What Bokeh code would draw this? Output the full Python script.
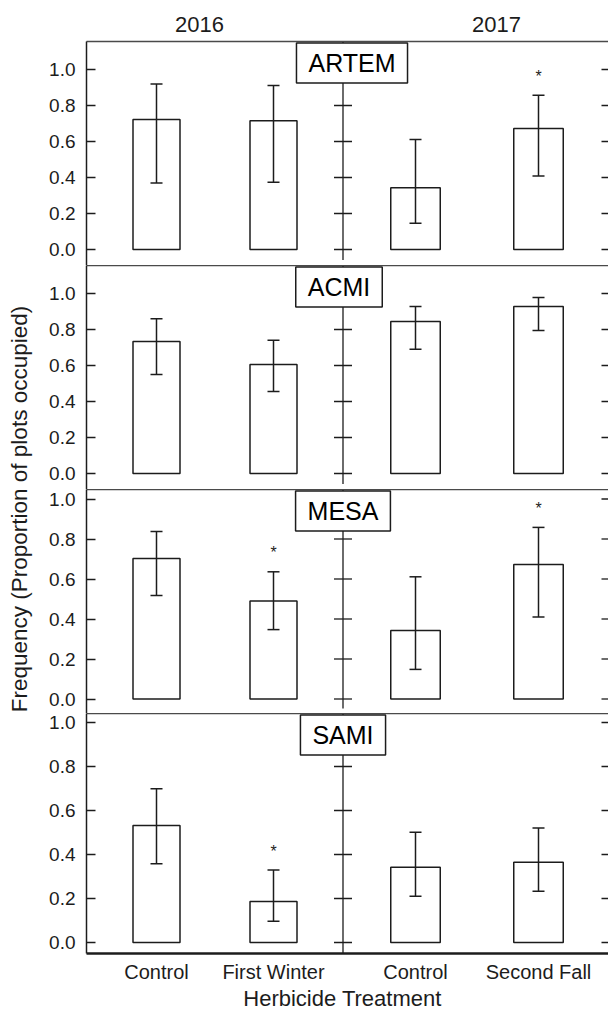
import math
from bokeh.plotting import figure
from bokeh.models import (Range1d, LinearAxis, FixedTicker, ColumnDataSource, Whisker,
                          TeeHead, Label, PrintfTickFormatter)
from bokeh.layouts import column, row
from bokeh.embed import file_html
from bokeh.resources import INLINE
from bokeh.core.properties import value

# ---------------- data ----------------
species = ["ARTEM", "ACMI", "MESA", "SAMI"]
treatments = ["Control", "First Winter", "Control", "Second Fall"]
years = ["2016", "2017"]
x_title = "Herbicide Treatment"
y_title = "Frequency (Proportion of plots occupied)"

freq_artem = [0.722, 0.715, 0.343, 0.672]
lo_artem = [0.370, 0.374, 0.146, 0.409]
hi_artem = [0.920, 0.911, 0.611, 0.857]
sig_artem = [False, False, False, True]

freq_acmi = [0.733, 0.605, 0.844, 0.928]
lo_acmi = [0.550, 0.455, 0.690, 0.795]
hi_acmi = [0.860, 0.740, 0.928, 0.978]
sig_acmi = [False, False, False, False]

freq_mesa = [0.702, 0.490, 0.343, 0.673]
lo_mesa = [0.517, 0.347, 0.148, 0.410]
hi_mesa = [0.837, 0.636, 0.611, 0.858]
sig_mesa = [False, True, False, True]

freq_sami = [0.532, 0.186, 0.342, 0.365]
lo_sami = [0.358, 0.097, 0.210, 0.233]
hi_sami = [0.699, 0.329, 0.501, 0.520]
sig_sami = [False, True, False, False]

y_ticks = [0.0, 0.2, 0.4, 0.6, 0.8, 1.0]

# ---------------- layout / style ----------------
FONT = "Liberation Sans"
INK = "#1c1c1c"
X_END = 5.22
x_pos = [0.70, 1.87, 3.29, 4.52]
bar_w = [0.47, 0.47, 0.495, 0.495]
div_x = 2.565
year_x = [1.13, 4.10]
label_x = [2.655, 2.525, 2.565, 2.565]
title_x = 2.56

panels = [
    dict(freq=freq_artem, lo=lo_artem, hi=hi_artem, sig=sig_artem,
         h=265, ys=-0.0889, ye=1.1556, top=41, bottom=0, fh=224),
    dict(freq=freq_acmi, lo=lo_acmi, hi=hi_acmi, sig=sig_acmi,
         h=224, ys=-0.0889, ye=1.1556, top=0, bottom=0, fh=224),
    dict(freq=freq_mesa, lo=lo_mesa, hi=hi_mesa, sig=sig_mesa,
         h=224, ys=-0.0725, ye=1.0475, top=0, bottom=0, fh=224),
    dict(freq=freq_sami, lo=lo_sami, hi=hi_sami, sig=sig_sami,
         h=272, ys=-0.05, ye=1.0409, top=0, bottom=32, fh=240),
]

figs = []
for i, cfg in enumerate(panels):
    last = i == len(panels) - 1
    p = figure(width=572, height=cfg["h"], x_range=Range1d(0, X_END),
               y_range=Range1d(cfg["ys"], cfg["ye"]),
               output_backend="svg", toolbar_location=None,
               x_axis_location=None, y_axis_location=None,
               min_border_left=50, min_border_right=0,
               min_border_top=cfg["top"], min_border_bottom=cfg["bottom"],
               outline_line_color=None, background_fill_color="white",
               border_fill_color="white")
    p.xgrid.grid_line_color = None
    p.ygrid.grid_line_color = None
    scale = cfg["fh"] / (cfg["ye"] - cfg["ys"])

    left = LinearAxis(ticker=FixedTicker(ticks=y_ticks),
                      formatter=PrintfTickFormatter(format="%.1f"),
                      major_tick_in=9, major_tick_out=0,
                      minor_tick_line_color=None,
                      axis_line_color=INK, axis_line_width=1.5,
                      major_tick_line_color=INK, major_tick_line_width=1.5,
                      major_label_text_font=FONT,
                      major_label_text_font_size="19px",
                      major_label_text_color=INK, major_label_standoff=11)
    p.add_layout(left, "left")

    if i == 0:
        top_ax = LinearAxis(ticker=FixedTicker(ticks=year_x),
                            major_label_overrides={year_x[k]: years[k] for k in range(2)},
                            major_tick_in=0, major_tick_out=0,
                            minor_tick_line_color=None,
                            axis_line_color="#4a4a4a", axis_line_width=1.5,
                            major_label_text_font=FONT,
                            major_label_text_font_size="22px",
                            major_label_text_color=INK, major_label_standoff=10)
    else:
        top_ax = LinearAxis(ticker=FixedTicker(ticks=[]),
                            major_tick_in=0, major_tick_out=0,
                            minor_tick_line_color=None,
                            axis_line_color="#4a4a4a", axis_line_width=1.5,
                            major_label_standoff=0)
    p.add_layout(top_ax, "above")

    if last:
        bot = LinearAxis(ticker=FixedTicker(ticks=x_pos),
                         major_label_overrides={x_pos[k]: treatments[k] for k in range(4)},
                         major_tick_in=0, major_tick_out=0,
                         minor_tick_line_color=None,
                         axis_line_color=INK, axis_line_width=2.5,
                         major_label_text_font=FONT,
                         major_label_text_font_size="20px",
                         major_label_text_color=INK, major_label_standoff=7)
        p.add_layout(bot, "below")

    # ticks on the right edge (frame continues past the window)
    p.scatter(x=[X_END] * len(y_ticks), y=y_ticks, marker="dash", size=14,
              line_color=INK, line_width=1.3)

    # divider between years (y axis of the 2017 sub-panel)
    div_bottom = cfg["ys"] if last else cfg["ys"] * 0.65
    p.segment(x0=[div_x], y0=[div_bottom], x1=[div_x], y1=[cfg["ye"]],
              line_color=INK, line_width=1.3)
    p.scatter(x=[div_x] * len(y_ticks), y=y_ticks, marker="dash", size=18,
              line_color=INK, line_width=1.3)

    src = ColumnDataSource(dict(x=x_pos, w=bar_w, freq=cfg["freq"],
                                lo=cfg["lo"], hi=cfg["hi"]))
    p.vbar(x="x", width="w", top="freq", bottom=0, source=src,
           fill_color="white", line_color=INK, line_width=1.5)
    wk = Whisker(source=src, base="x", upper="hi", lower="lo",
                 dimension="height", line_color=INK, line_width=1.5,
                 level="annotation",
                 upper_head=TeeHead(size=12, line_color=INK, line_width=1.5),
                 lower_head=TeeHead(size=12, line_color=INK, line_width=1.5))
    p.add_layout(wk)

    sx = [x_pos[k] for k in range(4) if cfg["sig"][k]]
    sy = [cfg["hi"][k] for k in range(4) if cfg["sig"][k]]
    if sx:
        p.text(x=sx, y=sy, text=["*"] * len(sx), text_font=value(FONT),
               text_font_size="16px", text_align="center",
               text_baseline="alphabetic", y_offset=-19, text_color=INK)

    lab = Label(x=label_x[i], y=cfg["ye"] - 1.5 / scale, text=species[i],
                text_font=FONT, text_font_size="25px", text_color="black",
                text_align="center", text_baseline="top",
                background_fill_color="white", border_line_color=INK,
                border_line_width=1.5, padding=(12, 6))
    p.add_layout(lab)
    figs.append(p)

# x-axis title strip under the panels
tf = figure(width=572, height=26, x_range=Range1d(0, X_END), y_range=Range1d(0, 1),
            output_backend="svg", toolbar_location=None,
            x_axis_location=None, y_axis_location=None,
            outline_line_color=None, min_border_left=50, min_border_right=0,
            min_border_top=0, min_border_bottom=0)
tf.xgrid.grid_line_color = None
tf.ygrid.grid_line_color = None
tf.text(x=[title_x], y=[0.5], text=[x_title], text_font=value(FONT),
        text_font_size="22px", text_align="center",
        text_baseline="middle", text_color=INK)

# y-axis title column
lf = figure(width=36, height=1011, x_range=Range1d(0, 1), y_range=Range1d(0, 1),
            output_backend="svg", toolbar_location=None,
            x_axis_location=None, y_axis_location=None,
            outline_line_color=None, min_border=0)
lf.xgrid.grid_line_color = None
lf.ygrid.grid_line_color = None
lf.text(x=[0.53], y=[0.497], text=[y_title],
        angle=math.pi / 2, text_font=value(FONT), text_font_size="22.5px",
        text_align="center", text_baseline="middle", text_color=INK)

layout = row(lf, column(*figs, tf))
open("out.html", "w").write(file_html(layout, INLINE))
